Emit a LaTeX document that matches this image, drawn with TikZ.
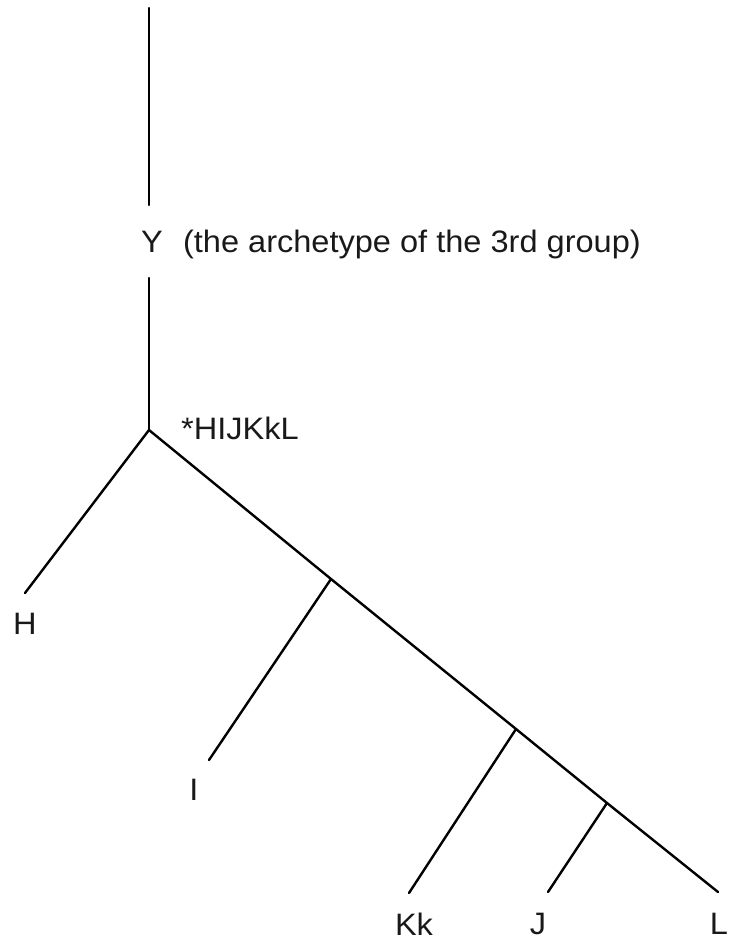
\documentclass[tikz,border=0pt]{standalone}
\usepackage{fontspec}
\setmainfont[FakeStretch=1.05]{Liberation Sans}
\begin{document}
\begin{tikzpicture}[x=1pt,y=-1pt,
  branch/.style={line width=2.4pt, line cap=round},
  lbl/.style={inner sep=0pt, font=\fontsize{31}{35}\selectfont, text=black!90}]
\useasboundingbox (0,0) rectangle (732,942);
% coordinates
\coordinate (top) at (149,8);
\coordinate (ybot) at (149,205);
\coordinate (ytop) at (149,278);
\coordinate (root) at (149,430);
\coordinate (hend) at (25,593);
\coordinate (b1) at (331,579);
\coordinate (iend) at (209,760);
\coordinate (b2) at (516,729);
\coordinate (kend) at (409,893);
\coordinate (b3) at (607,803);
\coordinate (jend) at (548,892);
\coordinate (lend) at (718,892);
% labels
\node[lbl, anchor=west] (Y) at (141,244) {Y\hspace{0.65em}(the archetype of the 3rd group)};
\node[lbl, anchor=west] (root lbl) at (181,428) {*HIJKkL};
\node[lbl] (H) at (25,624) {H};
\node[lbl] (I) at (194,790) {I};
\node[lbl] (Kk) at (414,924) {Kk};
\node[lbl] (J) at (538,924) {J};
\node[lbl] (L) at (719,924) {L};
% lines
\draw[branch] (top) -- (ybot);
\draw[branch] (ytop) -- (root);
\draw[branch] (root) -- (hend);
\draw[branch] (root) -- (b1) -- (b2) -- (b3) -- (lend);
\draw[branch] (b1) -- (iend);
\draw[branch] (b2) -- (kend);
\draw[branch] (b3) -- (jend);
\end{tikzpicture}
\end{document}
